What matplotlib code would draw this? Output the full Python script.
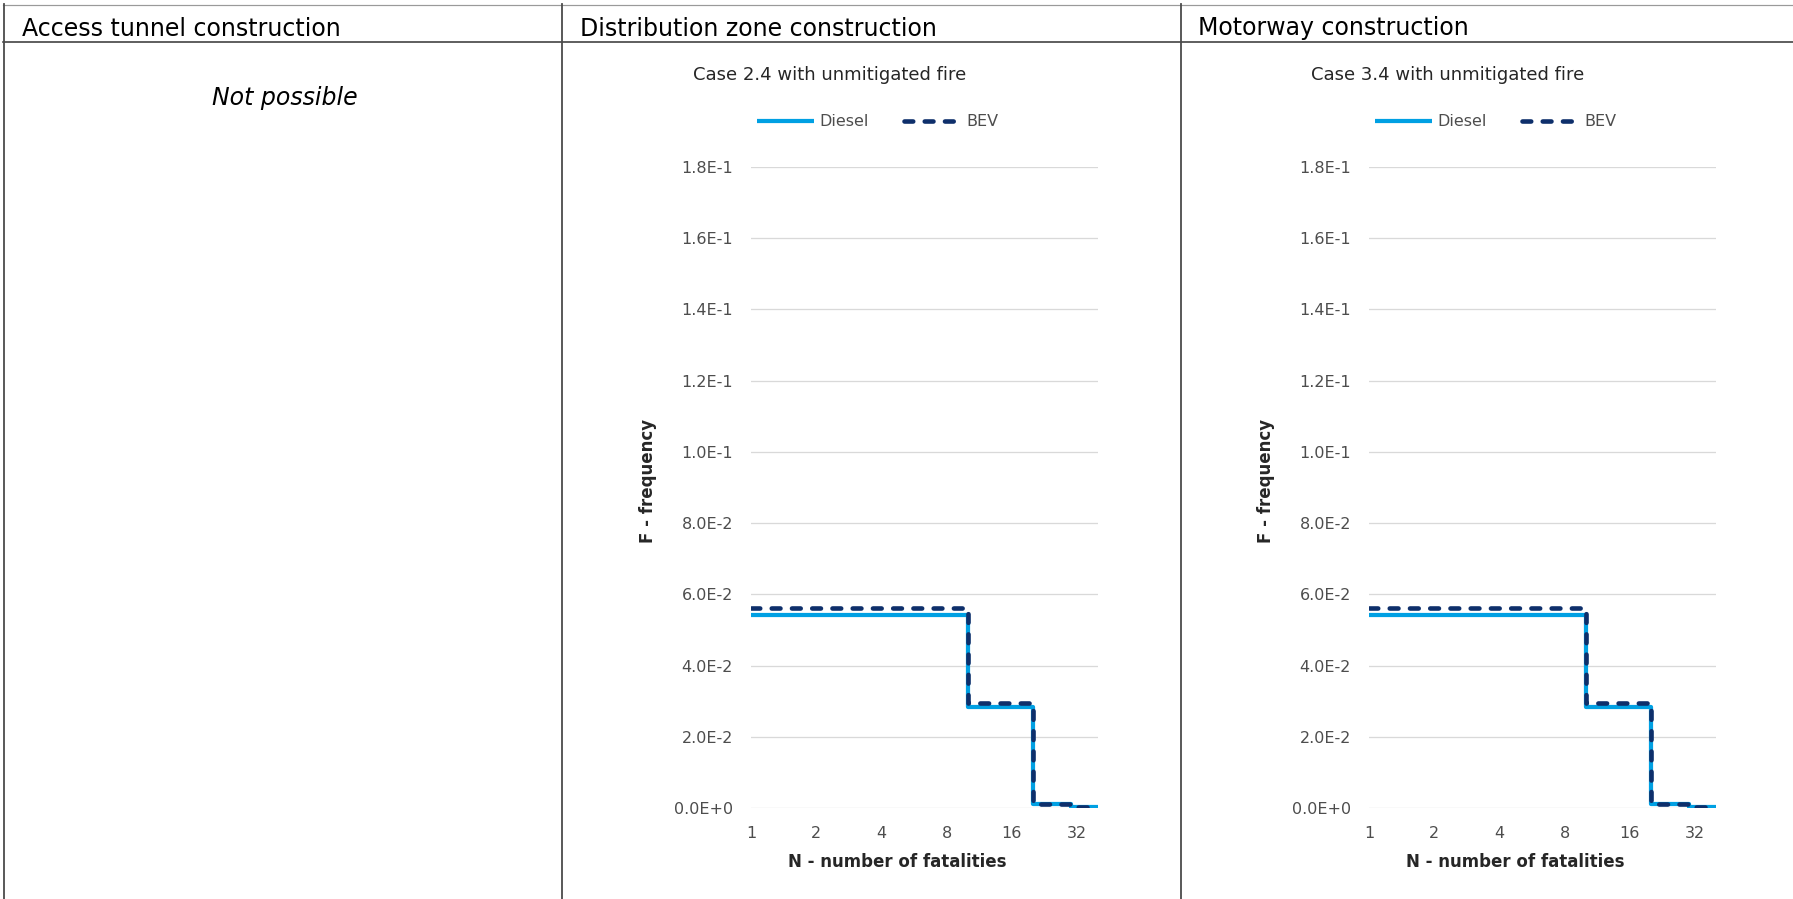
import matplotlib
matplotlib.use('Agg')
import matplotlib.pyplot as plt
from matplotlib.ticker import FuncFormatter, NullLocator

# figure is laid out in pixels (1793 x 899 at dpi 100)
W, H = 1793, 899
PX = 0.72  # points per pixel

plt.rcParams['font.family'] = ['DejaVu Sans']

# table header texts
col_headers = ['Access tunnel construction', 'Distribution zone construction', 'Motorway construction']
col_edges = [4, 561.5, 1180.5]
not_possible = 'Not possible'

# F-N step data (N breakpoints, frequency on each step)
n_edges = [1, 10, 20, 30, 40]
diesel_24 = [0.0541, 0.0285, 0.0010, 0.0002]
bev_24 = [0.0562, 0.0295, 0.0012, 0.0002]
diesel_34 = [0.0541, 0.0285, 0.0010, 0.0002]
bev_34 = [0.0562, 0.0296, 0.0012, 0.0002]

chart_titles = ['Case 2.4 with unmitigated fire', 'Case 3.4 with unmitigated fire']
series_names = ['Diesel', 'BEV']
x_ticks = [1, 2, 4, 8, 16, 32]
y_ticks = [0, 0.02, 0.04, 0.06, 0.08, 0.10, 0.12, 0.14, 0.16, 0.18]

c_diesel = '#00A0E3'
c_bev = '#0E2F6B'
c_grid = '#D9D9D9'
c_tick = '#4D4D4D'
c_text = '#262626'


def sci(v, pos):
    m, e = f"{v:.1E}".split('E')
    return f"{m}E{int(e):+d}"


fig = plt.figure(figsize=(W / 100, H / 100), dpi=100)

# background layer in pixel coordinates for the table
bg = fig.add_axes([0, 0, 1, 1])
bg.set_xlim(0, W)
bg.set_ylim(H, 0)
bg.axis('off')

bg.plot([3, W], [4.5, 4.5], color='#9A9A9A', lw=1.2 * PX)
bg.plot([3, W], [41.5, 41.5], color='#3C3C3C', lw=1.6 * PX)
for xe in col_edges:
    bg.plot([xe, xe], [4, H], color='#4A4A4A', lw=1.8 * PX)

for xe, txt in zip(col_edges, col_headers):
    bg.text(xe + 18, 35.5, txt, fontsize=17, color='black', va='baseline', ha='left')

bg.text(285, 105, not_possible, fontsize=17, style='italic', color='black',
        va='baseline', ha='center')

# the two charts
charts = [(diesel_24, bev_24), (diesel_34, bev_34)]
for i, (diesel, bev) in enumerate(charts):
    dx = 618 * i
    left, right, top, bottom = 751 + dx, 1098 + dx, 167, 808
    ax = fig.add_axes([left / W, 1 - bottom / H, (right - left) / W, (bottom - top) / H])

    ax.step(n_edges, diesel + [diesel[-1]], where='post', color=c_diesel,
            lw=4.2 * PX, label=series_names[0], solid_capstyle='butt', zorder=3)
    ax.step(n_edges, bev + [bev[-1]], where='post', color=c_bev, lw=4.6 * PX,
            label=series_names[1], dashes=(1.9, 2.5), dash_capstyle='round', zorder=4)

    ax.set_xscale('log', base=2)
    ax.set_xlim(1, 40)
    ax.set_ylim(0, 0.18)
    ax.set_xticks(x_ticks)
    ax.set_xticklabels([str(t) for t in x_ticks])
    ax.xaxis.set_minor_locator(NullLocator())
    ax.set_yticks(y_ticks)
    ax.yaxis.set_major_formatter(FuncFormatter(sci))
    ax.tick_params(axis='both', length=0, labelsize=11.5, labelcolor=c_tick)
    ax.tick_params(axis='y', pad=18 * PX)
    ax.tick_params(axis='x', pad=18 * PX)
    ax.grid(axis='y', color=c_grid, lw=1.3 * PX, zorder=0)
    ax.set_axisbelow(True)
    for s in ax.spines.values():
        s.set_visible(False)
    ax.patch.set_alpha(0)

    # chart title, legend and axis titles
    bg.text(829.5 + dx, 75.5, chart_titles[i], fontsize=13, color=c_text,
            ha='center', va='center')
    h, l = ax.get_legend_handles_labels()
    fig.legend(h, l, loc='center', bbox_to_anchor=((877.5 + dx) / W, 1 - 122 / H),
               ncol=2, frameon=False, fontsize=11.5, handlelength=3.6,
               handletextpad=0.3, columnspacing=2.2, borderpad=0, labelcolor=c_tick)
    bg.text(897 + dx, 862, 'N - number of fatalities', fontsize=12, fontweight='bold',
            color=c_text, ha='center', va='center')
    bg.text(648 + dx, 481, 'F - frequency', fontsize=12, fontweight='bold',
            color=c_text, ha='center', va='center', rotation=90)

fig.savefig('out.png', dpi=100)
